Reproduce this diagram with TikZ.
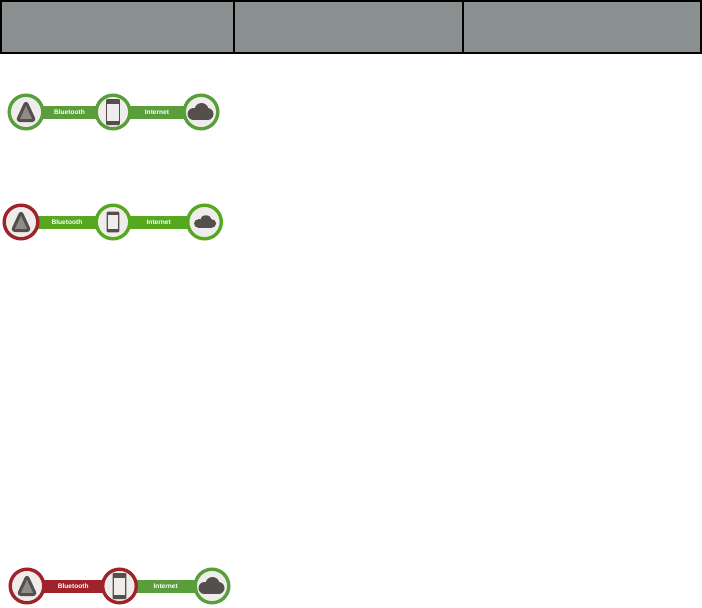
\documentclass[tikz,border=0pt]{standalone}
\usepackage{fontspec}
\usetikzlibrary{backgrounds}
\setmainfont{Liberation Sans}
\definecolor{headgray}{HTML}{8A8F90}
\definecolor{hubfill}{HTML}{EFEDEB}
\definecolor{icondark}{HTML}{544E4C}
\definecolor{iconlight}{HTML}{8F8B88}
\definecolor{okdull}{HTML}{5A9E3C}
\definecolor{okbright}{HTML}{56A81E}
\definecolor{faildark}{HTML}{A0222A}
\tikzset{
    headcell/.style={draw=black, fill=headgray, line width=2pt},
    hub/.style={circle, fill=hubfill, line width=3.4pt, minimum size=33.6pt, inner sep=0pt},
    bar/.style={line width=13pt, shorten >=-5pt, shorten <=-5pt},
    barlabel/.style={midway, text=white, font=\bfseries\fontsize{6.6}{7}\selectfont, inner sep=0pt},
    pics/triangle/.style={code={
        \draw[draw=icondark, fill=iconlight, line width=3pt, rounded corners=2.5pt, line join=round]
            (0,-10) -- (8.6,8.5) -- (-8.6,8.5) -- cycle;
    }},
    pics/phone/.style={code={
        \fill[icondark, rounded corners=1pt] (-6.8,-13) rectangle (6.8,13);
        \fill[hubfill] (-5.6,-8.5) rectangle (5.6,8.5);
    }},
    pics/cloud/.style={code={
        \fill[icondark] (0.5,-2) circle (7);
        \fill[icondark] (-7.5,2) circle (6);
        \fill[icondark] (6.5,2) circle (6);
        \fill[icondark] (-7.5,0) rectangle (6.5,8);
    }}
}
\begin{document}
\begin{tikzpicture}[x=1pt, y=-1pt]
    \useasboundingbox (0,0) rectangle (702,608);

    % header
    \draw[headcell] (1,1.2) rectangle (234,52.7);
    \draw[headcell] (234,1.2) rectangle (462.5,52.7);
    \draw[headcell] (462.5,1.2) rectangle (701,52.7);

    %%%%%%%%%%%%%%%%%%%%
    \node[hub, draw=okdull] (T_a) at (26,112) {};
    \node[hub, draw=okdull] (P_a) at (113,112) {};
    \node[hub, draw=okdull] (C_a) at (201,112) {};
    \begin{pgfonlayer}{background}
        \draw[bar, okdull] (T_a) -- node[barlabel] {Bluetooth} (P_a);
        \draw[bar, okdull] (P_a) -- node[barlabel] {Internet} (C_a);
    \end{pgfonlayer}
    \pic at (T_a) {triangle};
    \pic at (P_a) {phone};
    \pic at (C_a) {cloud};

    %%%%%%%%%%%%%%%%%%%%
    \node[hub, draw=faildark] (T_b) at (21,222) {};
    \node[hub, draw=okbright] (P_b) at (113,222) {};
    \node[hub, draw=okbright] (C_b) at (204.5,222) {};
    \begin{pgfonlayer}{background}
        \draw[bar, okbright] (T_b) -- node[barlabel] {Bluetooth} (P_b);
        \draw[bar, okbright] (P_b) -- node[barlabel] {Internet} (C_b);
    \end{pgfonlayer}
    \pic at (T_b) {triangle};
    \pic[xscale=0.92, yscale=0.8] at (P_b) {phone};
    \pic[xscale=0.85, yscale=0.75] at ([xshift=1pt]C_b) {cloud};

    %%%%%%%%%%%%%%%%%%%%
    \node[hub, draw=faildark] (T_c) at (27,586) {};
    \node[hub, draw=faildark] (P_c) at (119.5,586) {};
    \node[hub, draw=okdull] (C_c) at (212,586) {};
    \begin{pgfonlayer}{background}
        \draw[bar, faildark] (T_c) -- node[barlabel] {Bluetooth} (P_c);
        \draw[bar, okdull] (P_c) -- node[barlabel] {Internet} (C_c);
    \end{pgfonlayer}
    \pic at (T_c) {triangle};
    \pic at (P_c) {phone};
    \pic at (C_c) {cloud};
\end{tikzpicture}
\end{document}
